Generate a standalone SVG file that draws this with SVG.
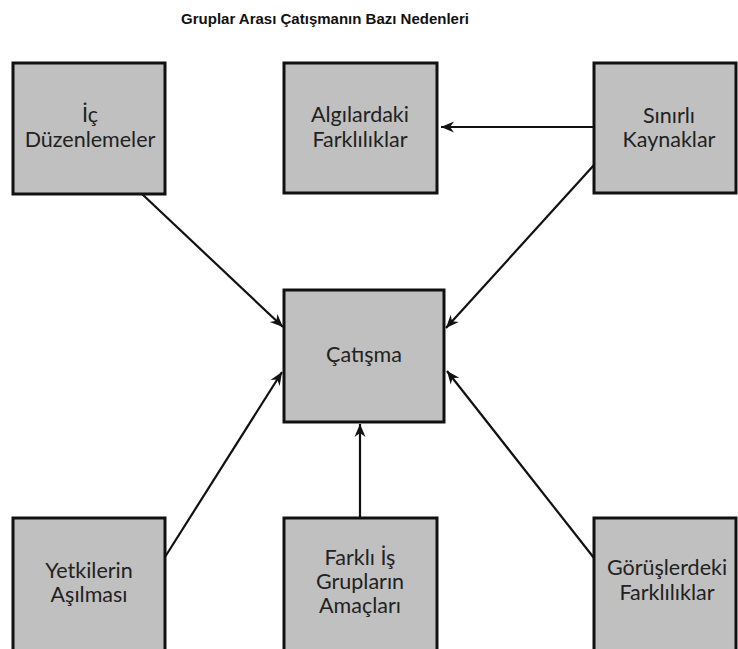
<svg xmlns="http://www.w3.org/2000/svg" width="738" height="649" viewBox="0 0 738 649">
  <style>
    .box { fill: #c0c0c0; stroke: #111; stroke-width: 3; }
    .lbl { font-family: "Lato", "Open Sans", sans-serif; font-size: 21.5px; fill: #222; text-anchor: middle; }
    .title { font-family: "Liberation Sans", Arial, sans-serif; font-size: 15px; font-weight: bold; fill: #111; text-anchor: middle; }
    .edge { stroke: #111; stroke-width: 2.2; fill: none; marker-end: url(#arrow); }
  </style>
  <defs>
    <marker id="arrow" markerUnits="userSpaceOnUse" markerWidth="14" markerHeight="12" refX="13" refY="6" orient="auto">
      <path d="M0,0.5 L13,6 L0,11.5 L4,6 Z" fill="#111"/>
    </marker>
  </defs>
  <rect width="738" height="649" fill="#fff"/>

  <text class="title" x="325" y="24">Gruplar Arası Çatışmanın Bazı Nedenleri</text>

  <g id="connectors">
    <line class="edge" x1="594" y1="127" x2="441" y2="127"/>
    <line class="edge" x1="142" y1="194" x2="283" y2="327"/>
    <line class="edge" x1="594" y1="165" x2="446" y2="328"/>
    <line class="edge" x1="165" y1="557" x2="282" y2="372"/>
    <line class="edge" x1="594" y1="558" x2="447" y2="371"/>
    <line class="edge" x1="360" y1="518" x2="360" y2="424"/>
  </g>

  <g id="ic-duzenlemeler">
    <rect class="box" x="13" y="63" width="152" height="131"/>
    <text class="lbl" x="90" y="122">İç</text>
    <text class="lbl" x="90" y="147">Düzenlemeler</text>
  </g>

  <g id="algilardaki-farkliliklar">
    <rect class="box" x="284" y="63" width="153" height="130"/>
    <text class="lbl" x="360" y="122">Algılardaki</text>
    <text class="lbl" x="360" y="147">Farklılıklar</text>
  </g>

  <g id="sinirli-kaynaklar">
    <rect class="box" x="594" y="63" width="142" height="130"/>
    <text class="lbl" x="669" y="123">Sınırlı</text>
    <text class="lbl" x="669" y="147">Kaynaklar</text>
  </g>

  <g id="catisma">
    <rect class="box" x="284" y="290" width="160" height="132"/>
    <text class="lbl" x="364" y="362">Çatışma</text>
  </g>

  <g id="yetkilerin-asilmasi">
    <rect class="box" x="13" y="518" width="152" height="133"/>
    <text class="lbl" x="89" y="578">Yetkilerin</text>
    <text class="lbl" x="89" y="602">Aşılması</text>
  </g>

  <g id="farkli-is-gruplarinin-amaclari">
    <rect class="box" x="284" y="518" width="153" height="133"/>
    <text class="lbl" x="360" y="565">Farklı İş</text>
    <text class="lbl" x="360" y="589">Grupların</text>
    <text class="lbl" x="360" y="613">Amaçları</text>
  </g>

  <g id="goruslerdeki-farkliliklar">
    <rect class="box" x="594" y="518" width="142" height="133"/>
    <text class="lbl" x="667" y="575">Görüşlerdeki</text>
    <text class="lbl" x="667" y="600">Farklılıklar</text>
  </g>
</svg>
